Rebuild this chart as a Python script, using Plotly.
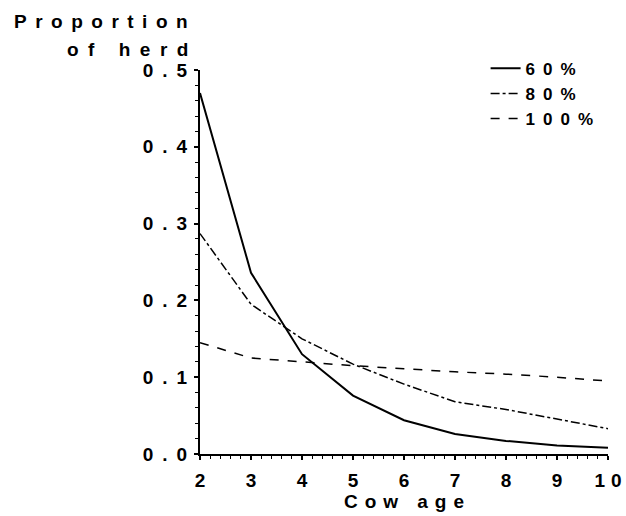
import plotly.graph_objects as go

ages = [2, 3, 4, 5, 6, 7, 8, 9, 10]
p60 = [0.470, 0.236, 0.130, 0.076, 0.044, 0.026, 0.017, 0.011, 0.008]
p80 = [0.287, 0.195, 0.150, 0.117, 0.091, 0.068, 0.058, 0.045, 0.033]
p100 = [0.145, 0.125, 0.120, 0.115, 0.111, 0.107, 0.104, 0.100, 0.095]
series_names = ["60%", "80%", "100%"]
y_ticks = [0.0, 0.1, 0.2, 0.3, 0.4, 0.5]
y_ticklabels = ["0.0", "0.1", "0.2", "0.3", "0.4", "0.5"]
x_ticks = [2, 3, 4, 5, 6, 7, 8, 9, 10]

FONT = "Liberation Sans, Arial, sans-serif"


def spaced(t, sp):
    """Letter-spaced bold text without trailing space after the last char."""
    if len(t) < 2:
        return f"<b>{t}</b>"
    return f'<b><span style="letter-spacing:{sp}px">{t[:-1]}</span>{t[-1]}</b>'


fig = go.Figure()
styles = [("solid", 2), ("dashdot", 1.5), ("dash", 1.5)]
for name, ys, (dash, w) in zip(series_names, [p60, p80, p100], styles):
    fig.add_trace(go.Scatter(x=ages, y=ys, mode="lines",
                             name=spaced(name, 8),
                             line=dict(color="black", width=w, dash=dash)))

fig.update_layout(
    width=626, height=516,
    margin=dict(l=200, r=18, t=70, b=62),
    paper_bgcolor="white", plot_bgcolor="white",
    font=dict(family=FONT, size=19, color="black"),
    showlegend=True,
    legend=dict(x=0.70, xanchor="left", y=1.05, yanchor="top",
                bgcolor="rgba(0,0,0,0)", borderwidth=0,
                font=dict(family=FONT, size=17, color="black"),
                itemwidth=30, tracegroupgap=0),
    xaxis=dict(range=[2, 10], tickvals=x_ticks,
               ticktext=[spaced(str(v), 6) for v in x_ticks],
               showgrid=False, zeroline=False, showline=True, automargin=False,
               linecolor="black", linewidth=2, ticks="outside", ticklen=4,
               tickwidth=2, tickcolor="black", ticklabelstandoff=4,
               ticklabeloverflow="allow",
               tickfont=dict(family=FONT, size=19, color="black"),
               minor=dict(ticks="outside", dtick=0.2, ticklen=3, tickwidth=1, tickcolor="black"),
               title=dict(text=spaced("Cow age", 7),
                          font=dict(family=FONT, size=19), standoff=4)),
    yaxis=dict(range=[0, 0.5], tickvals=y_ticks,
               ticktext=[spaced(t, 9) for t in y_ticklabels],
               showgrid=False, zeroline=False, showline=True, automargin=False,
               linecolor="black", linewidth=2, ticks="outside", ticklen=4,
               tickwidth=2, tickcolor="black", ticklabelstandoff=3,
               tickfont=dict(family=FONT, size=19, color="black"),
               minor=dict(ticks="outside", dtick=0.02, ticklen=3, tickwidth=1, tickcolor="black")),
)

fig.add_annotation(xref="paper", yref="paper", x=-0.025, y=1.0, yshift=49,
                   xanchor="right", yanchor="middle", showarrow=False, align="right",
                   text=spaced("Proportion", 8.5),
                   font=dict(family=FONT, size=19, color="black"))
fig.add_annotation(xref="paper", yref="paper", x=-0.025, y=1.0, yshift=21,
                   xanchor="right", yanchor="middle", showarrow=False, align="right",
                   text=spaced("of herd", 9.5),
                   font=dict(family=FONT, size=19, color="black"))

fig.write_html(
    "out.html",
    config={"displayModeBar": False},
    post_script="document.body.style.margin='0';document.body.style.overflow='hidden';",
)
